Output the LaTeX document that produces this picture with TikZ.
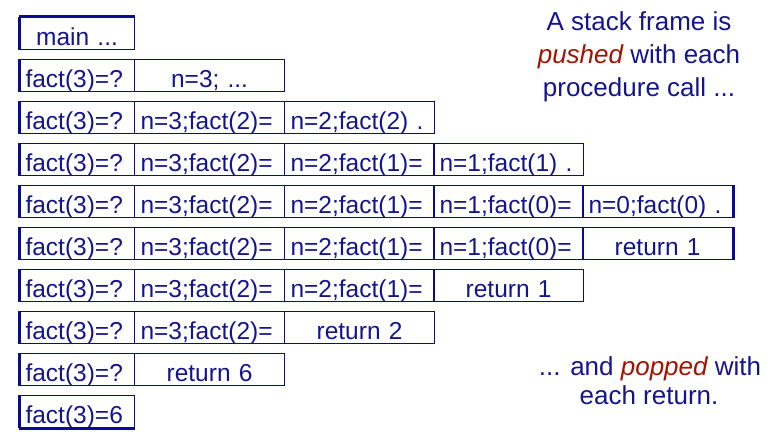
\documentclass[tikz,border=0pt]{standalone}
\usepackage{fontspec}
\setmainfont{Liberation Sans}
\definecolor{navy}{RGB}{20,20,140}
\definecolor{linec}{RGB}{10,10,150}
\definecolor{dred}{RGB}{160,20,0}
\begin{document}
\begin{tikzpicture}[x=1pt,y=-1pt,
  cell/.style={draw=linec, line width=1.1pt, anchor=north west, inner xsep=6pt, inner ysep=0pt,
    text height=28pt, text depth=4pt, text=navy, font=\fontsize{24.5}{28}\selectfont},
  wa/.style={text width=103pt},
  wb/.style={text width=138pt},
  lc/.style={align=left},
  cc/.style={align=center},
  thickl/.style={draw=linec, line width=3pt},
  side/.style={anchor=base, text=navy, font=\fontsize{26}{30}\selectfont, inner sep=0pt}]
\useasboundingbox (0,0) rectangle (781,441);
% row 1
\node[cell,wa,cc] (c11) at (19,17) {main ...};
% row 2
\node[cell,wa,lc] (c21) at (19,59) {fact(3)=?};
\node[cell,wb,cc] (c22) at (134,59) {n=3; ...};
% row 3
\node[cell,wa,lc] (c31) at (19,101) {fact(3)=?};
\node[cell,wb,lc] (c32) at (134,101) {n=3;fact(2)=};
\node[cell,wb,lc] (c33) at (284,101) {n=2;fact(2) .};
% row 4
\node[cell,wa,lc] (c41) at (19,143) {fact(3)=?};
\node[cell,wb,lc] (c42) at (134,143) {n=3;fact(2)=};
\node[cell,wb,lc] (c43) at (284,143) {n=2;fact(1)=};
\node[cell,wb,lc] (c44) at (433,143) {n=1;fact(1) .};
% row 5
\node[cell,wa,lc] (c51) at (19,185) {fact(3)=?};
\node[cell,wb,lc] (c52) at (134,185) {n=3;fact(2)=};
\node[cell,wb,lc] (c53) at (284,185) {n=2;fact(1)=};
\node[cell,wb,lc] (c54) at (433,185) {n=1;fact(0)=};
\node[cell,wb,lc] (c55) at (582,185) {n=0;fact(0) .};
% row 6
\node[cell,wa,lc] (c61) at (19,227) {fact(3)=?};
\node[cell,wb,lc] (c62) at (134,227) {n=3;fact(2)=};
\node[cell,wb,lc] (c63) at (284,227) {n=2;fact(1)=};
\node[cell,wb,lc] (c64) at (433,227) {n=1;fact(0)=};
\node[cell,wb,cc] (c65) at (582,227) {return 1};
% row 7
\node[cell,wa,lc] (c71) at (19,269) {fact(3)=?};
\node[cell,wb,lc] (c72) at (134,269) {n=3;fact(2)=};
\node[cell,wb,lc] (c73) at (284,269) {n=2;fact(1)=};
\node[cell,wb,cc] (c74) at (433,269) {return 1};
% row 8
\node[cell,wa,lc] (c81) at (19,311) {fact(3)=?};
\node[cell,wb,lc] (c82) at (134,311) {n=3;fact(2)=};
\node[cell,wb,cc] (c83) at (284,311) {return 2};
% row 9
\node[cell,wa,lc] (c91) at (19,353) {fact(3)=?};
\node[cell,wb,cc] (c92) at (134,353) {return 6};
% row 10
\node[cell,wa,lc] (c101) at (19,395) {fact(3)=6};
% thick edges
\foreach \r in {c11,c21,c31,c41,c51,c61,c71,c81,c91,c101}
  \draw[thickl] (\r.north west) -- (\r.south west);
\draw[thickl] (c11.north west) -- (c11.north east);
\draw[thickl] (c55.north east) -- (c55.south east);
\draw[thickl] (c65.north east) -- (c65.south east);
\draw[thickl] (c101.south west) -- (c101.south east);
% side texts
\node[side] (t1) at (639,31) {A stack frame is};
\node[side] (t2) at (639,64) {\textcolor{dred}{\itshape pushed} with each};
\node[side] (t3) at (639,97) {procedure call ...};
\node[side] (t4) at (650,375) {... and \textcolor{dred}{\itshape popped} with};
\node[side] (t5) at (649,404) {each return.};
\end{tikzpicture}
\end{document}
